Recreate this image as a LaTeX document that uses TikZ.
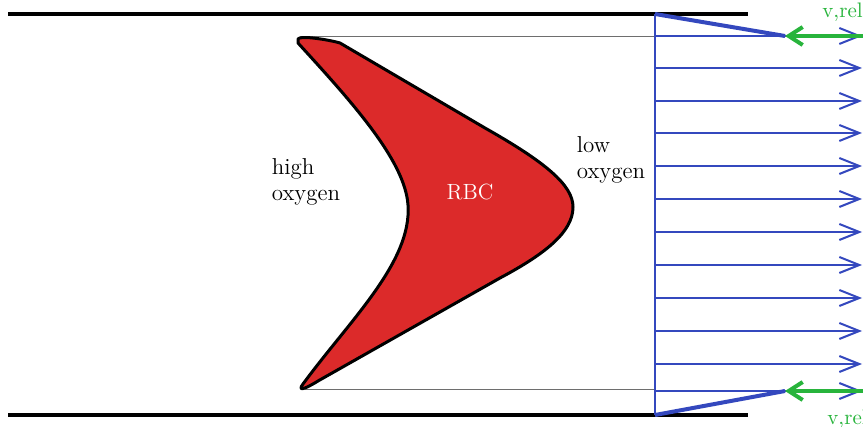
\documentclass[tikz,border=0pt]{standalone}
\usepackage{tikz}
\usepackage{xcolor}
\usetikzlibrary{arrows.meta,positioning,calc}
\definecolor{flowblue}{RGB}{52,72,190}
\definecolor{cellred}{RGB}{220,42,42}
\definecolor{relgreen}{RGB}{40,180,60}
\definecolor{guidegray}{RGB}{110,110,110}

\begin{document}
\begin{tikzpicture}[x=0.5pt,y=-0.5pt]
% Vessel segment with a deformed red cell and the velocity profile
\useasboundingbox (0,0) rectangle (863,427);
\def\front{655}
\def\tipx{785}
\def\edge{862}

% Vessel walls
\coordinate (wallTL) at (8,14);
\coordinate (wallTR) at (748,14);
\coordinate (wallBL) at (8,415);
\coordinate (wallBR) at (748,415);
\draw[line width=1.6pt] (wallTL) -- (wallTR);
\draw[line width=1.6pt] (wallBL) -- (wallBR);

% Thin guide lines at the cell tips
\coordinate (guideTL) at (300,36);
\coordinate (guideBL) at (305,389);
\coordinate (guideTR) at (\front,36);
\coordinate (guideBR) at (\front,389);
\draw[guidegray, line width=0.4pt] (guideTL) -- (guideTR);
\draw[guidegray, line width=0.4pt] (guideBL) -- (guideBR);

% Red blood cell
\draw[fill=cellred, line width=1.5pt, line join=round]
  (298,39) .. controls (300,35) and (330,40) .. (340,43)
  -- (485,128)
  .. controls (545,162) and (573,185) .. (573,207)
  .. controls (573,232) and (545,254) .. (500,278)
  -- (318,381)
  .. controls (305,389) and (297,392) .. (303,384)
  .. controls (350,320) and (412,262) .. (408,205)
  .. controls (405,160) and (350,100) .. (298,43) -- cycle;
\node[text=white, font=\fontsize{11}{13}\selectfont] (rbc) at (470,192) {RBC};

% Oxygen labels
\node[align=left, font=\fontsize{11.5}{13}\selectfont] (high) at (306,182) {high\\oxygen};
\node[align=left, font=\fontsize{11.5}{13}\selectfont] (low) at (611,160) {low\\oxygen};

% Velocity profile
\coordinate (frontT) at (\front,14);
\coordinate (frontB) at (\front,415);
\draw[flowblue, line width=1pt] (frontT) -- (frontB);
\foreach \y in {36,68,101,133,166,199,232,265,298,331,364,391} {
    \coordinate (start\y) at (\front,\y);
    \coordinate (end\y) at (\edge,\y);
    \draw[flowblue, line width=1pt, -{Straight Barb[length=10pt,width=8pt]}] (start\y) -- (end\y);
}

% Slip at the wall
\coordinate (slipT) at (\tipx,36);
\coordinate (slipB) at (\tipx,391);
\draw[flowblue, line width=2pt] (frontT) -- (slipT);
\draw[flowblue, line width=2pt] (frontB) -- (slipB);

% Relative velocity
\coordinate (relT) at (870,36);
\coordinate (relB) at (870,391);
\draw[relgreen, line width=2pt, -{Straight Barb[length=7pt,width=9pt]}] (relT) -- (slipT);
\draw[relgreen, line width=2pt, -{Straight Barb[length=7pt,width=9pt]}] (relB) -- (slipB);
\node[text=relgreen, anchor=base west, font=\fontsize{10.5}{12}\selectfont, inner sep=0pt] (relTop) at (822,18) {v,rel};
\node[text=relgreen, anchor=base west, font=\fontsize{10.5}{12}\selectfont, inner sep=0pt] (relBot) at (827,424) {v,rel};

\end{tikzpicture}
\end{document}
